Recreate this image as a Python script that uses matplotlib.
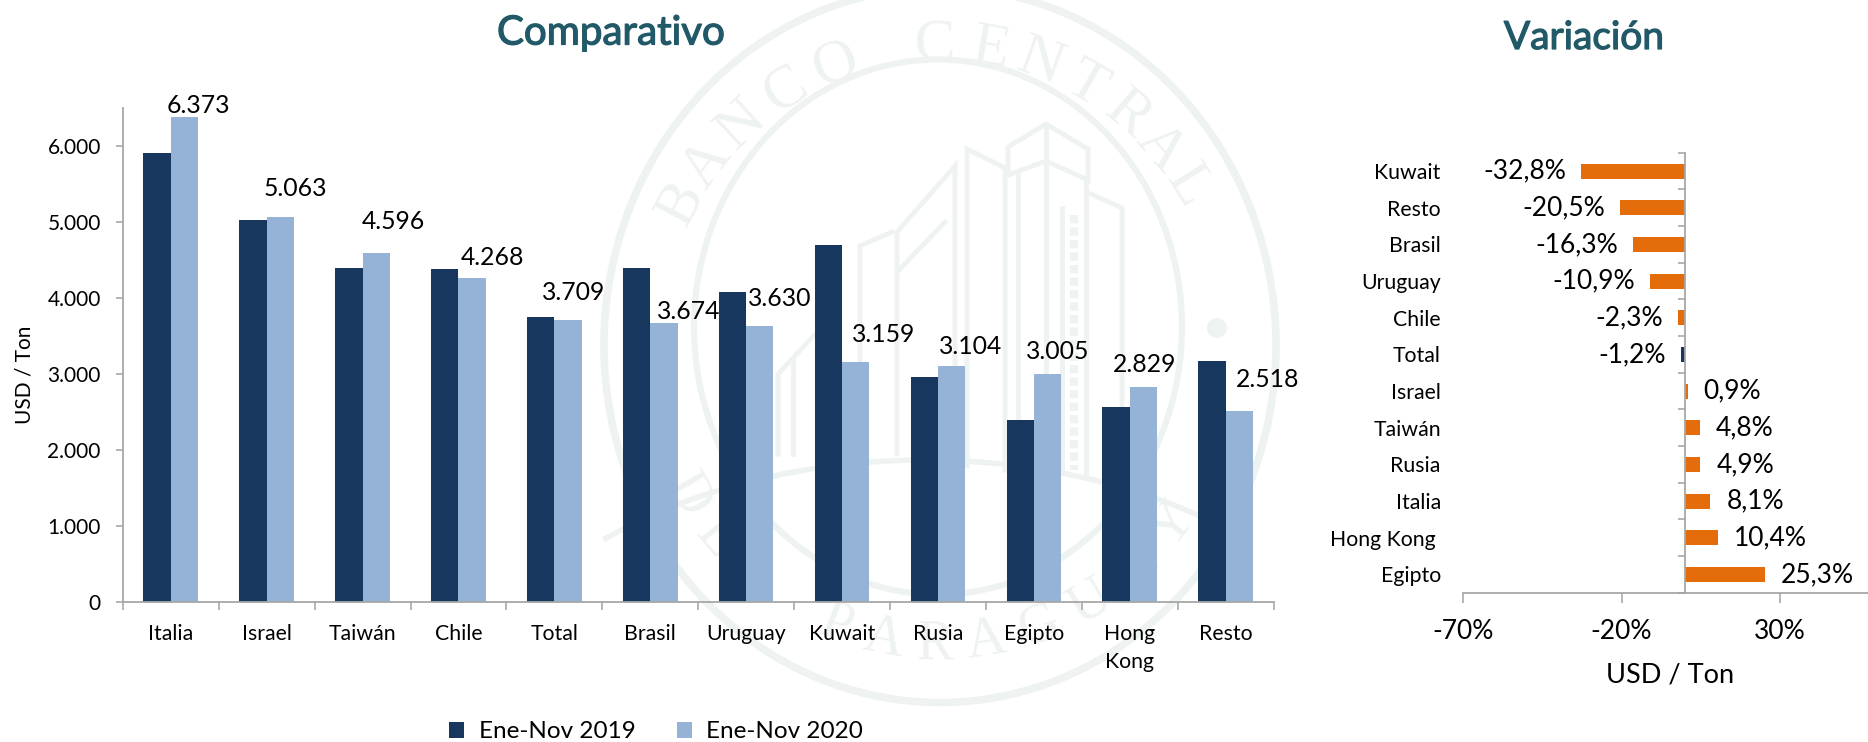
import numpy as np
import matplotlib
matplotlib.use('Agg')
import matplotlib.pyplot as plt
import matplotlib.patheffects as pe
from matplotlib.patches import Ellipse, Arc, Circle

plt.rcParams['font.family'] = ['Lato', 'DejaVu Sans']

W, H = 1868, 742
NAVY = '#17375e'
LIGHT = '#95b3d7'
ORANGE = '#e46c0a'
TEAL = '#215968'
AXIS = '#a6a6a6'
SEAL = '#eef3f1'

countries = ['Italia', 'Israel', 'Taiwán', 'Chile', 'Total', 'Brasil', 'Uruguay',
             'Kuwait', 'Rusia', 'Egipto', 'Hong\nKong', 'Resto']
values_2019 = [5900, 5023, 4393, 4375, 3753, 4393, 4071, 4700, 2960, 2394, 2560, 3170]
values_2020 = [6373, 5063, 4596, 4268, 3709, 3674, 3630, 3159, 3104, 3005, 2829, 2518]
y_ticks = [0, 1000, 2000, 3000, 4000, 5000, 6000]

var_names = ['Kuwait', 'Resto', 'Brasil', 'Uruguay', 'Chile', 'Total', 'Israel',
             'Taiwán', 'Rusia', 'Italia', 'Hong Kong ', 'Egipto']
var_values = [-32.8, -20.5, -16.3, -10.9, -2.3, -1.2, 0.9, 4.8, 4.9, 8.1, 10.4, 25.3]
var_ticks = [-70, -20, 30]

# label nudges in px, the source chart has them hand placed
label_dx = [14, 14.6, 17, 20, 5.7, 25, 20, 28, 19, 10, 1, 28]
label_dy = [11.6, 29, 30.8, 19.8, 27.5, 11.7, 28, 27.3, 19.6, 22, 22.6, 30.7]


def px(v):
    return v * 0.72


def axes_box(left, top, right, bottom):
    return [left / W, 1 - bottom / H, (right - left) / W, (bottom - top) / H]


fig = plt.figure(figsize=(W / 100, H / 100), dpi=100)

# watermark seal behind everything
bg = fig.add_axes([0, 0, 1, 1], zorder=0)
bg.set_xlim(0, W)
bg.set_ylim(H, 0)
bg.axis('off')
cx, cy = 940, 345
bg.add_patch(Ellipse((cx, cy), 672, 715, fill=False, ec=SEAL, lw=5.5))
bg.add_patch(Ellipse((cx - 2, cy - 18), 488, 535, fill=False, ec=SEAL, lw=4.5))
bg.add_patch(Arc((925, 800), 1000, 680, theta1=219, theta2=321, ec=SEAL, lw=4))
bg.add_patch(Circle((1217, 328), 10, fc=SEAL, ec='none'))

top_angles = [152, 143, 133, 122, 111, 91, 80, 70, 60, 50, 41, 32]
for ch, a in zip('BANCOCENTRAL', top_angles):
    r = np.radians(a)
    bg.text(cx + 292 * np.cos(r), cy - 300 * np.sin(r), ch, rotation=a - 90,
            family='Liberation Serif', fontsize=44, color=SEAL, ha='center', va='center',
            rotation_mode='anchor')
bottom_angles = [210, 220, 230, 249, 259, 269, 279, 290, 301, 312, 323]
for ch, a in zip('DELPARAGUAY', bottom_angles):
    r = np.radians(a)
    bg.text(cx + 292 * np.cos(r), cy - 300 * np.sin(r), ch, rotation=a - 270,
            family='Liberation Serif', fontsize=40, color=SEAL, ha='center', va='center',
            rotation_mode='anchor')

building = [
    [(1008, 175), (1008, 147), (1046, 124), (1088, 149), (1088, 180), (1046, 161), (1008, 175)],
    [(1046, 124), (1046, 161), (1046, 470)],
    [(1018, 172), (1018, 470)],
    [(967, 466), (967, 149), (1005, 168), (1005, 470)],
    [(955, 464), (955, 166), (897, 232), (897, 454)],
    [(945, 222), (899, 270)],
    [(892, 232), (860, 246), (860, 454)],
    [(836, 312), (778, 374), (778, 454)],
    [(793, 454), (793, 360)],
    [(1091, 194), (1122, 208), (1122, 473)],
    [(1062, 208), (1062, 470)],
    [(1086, 180), (1086, 473)],
]
for line in building:
    xs, ys = zip(*line)
    bg.plot(xs, ys, color=SEAL, lw=3.5, solid_joinstyle='miter')
bg.vlines([1074], 215, 470, color=SEAL, lw=6, linestyles=(0, (1.0, 0.5)))

# left chart
ax = fig.add_axes(axes_box(122.8, 107.65, 1273.6, 602.3), zorder=1)
ax.patch.set_alpha(0)
pos = np.arange(len(countries))
bar_w = 0.285
bars_a = ax.bar(pos - bar_w / 2, values_2019, bar_w, color=NAVY, label='Ene-Nov 2019')
bars_b = ax.bar(pos + bar_w / 2, values_2020, bar_w, color=LIGHT, label='Ene-Nov 2020')
ax.set_xlim(-0.5, len(countries) - 0.5)
ax.set_ylim(0, 6500)
ax.set_yticks(y_ticks)
ax.set_yticklabels([f'{v:,}'.replace(',', '.') for v in y_ticks], fontsize=15)
ax.set_xticks(pos)
ax.set_xticklabels(countries, fontsize=15.3, linespacing=1.5)
ax.set_xticks(np.arange(len(countries) + 1) - 0.5, minor=True)
ax.tick_params(axis='x', which='major', length=0, pad=px(22))
ax.tick_params(axis='x', which='minor', length=px(8), width=px(1.6), color=AXIS)
ax.tick_params(axis='y', length=px(7.5), width=px(1.6), color=AXIS, pad=px(14.5))
for side in ['top', 'right']:
    ax.spines[side].set_visible(False)
for side in ['left', 'bottom']:
    ax.spines[side].set_color(AXIS)
    ax.spines[side].set_linewidth(px(1.8))
for i, v in enumerate(values_2020):
    ax.annotate(f'{v:,}'.replace(',', '.'), (pos[i] + bar_w / 2, v),
                xytext=(px(label_dx[i]), px(label_dy[i])), textcoords='offset points',
                ha='center', va='center', fontsize=17.8, color='black')
fig.text(25 / W, 1 - 375 / H, 'USD / Ton', rotation=90, ha='center', va='center', fontsize=15)
title_fx = [pe.withStroke(linewidth=0.9, foreground=TEAL)]
fig.text(611 / W, 1 - 33 / H, 'Comparativo', ha='center', va='center', fontsize=29, color=TEAL,
         path_effects=title_fx)

fig.legend(handles=[bars_a, bars_b], loc='center', bbox_to_anchor=(656 / W, 1 - 732 / H),
           ncol=2, frameon=False, fontsize=17.5, handlelength=0.62, handleheight=0.62,
           handletextpad=0.58, columnspacing=1.7, borderpad=0, borderaxespad=0)

# right chart
ax2 = fig.add_axes(axes_box(1463.4, 152.7, 1868, 592.7), zorder=1)
ax2.patch.set_alpha(0)
ax2.spines['left'].set_position(('data', 0))
rows = np.arange(len(var_names))
colors = [NAVY if n == 'Total' else ORANGE for n in var_names]
ax2.barh(rows, var_values, 0.41, color=colors)
ax2.set_xlim(-70, 57.9)
ax2.set_ylim(len(var_names) - 0.5, -0.5)
ax2.set_xticks(var_ticks)
ax2.set_xticklabels([f'{v}%' for v in var_ticks], fontsize=19)
ax2.set_yticks(rows)
ax2.set_yticklabels(var_names, fontsize=15.3)
ax2.set_yticks(np.arange(len(var_names) + 1) - 0.5, minor=True)
ax2.tick_params(axis='y', which='major', length=0, pad=px(244))
ax2.tick_params(axis='y', which='minor', length=px(7), width=px(1.6), color=AXIS)
ax2.tick_params(axis='x', length=px(10), width=px(1.6), color=AXIS, pad=px(16))
for side in ['top', 'right']:
    ax2.spines[side].set_visible(False)
for side in ['left', 'bottom']:
    ax2.spines[side].set_color(AXIS)
    ax2.spines[side].set_linewidth(px(1.8))
for i, v in enumerate(var_values):
    ax2.annotate(f'{v:.1f}'.replace('.', ',') + '%', (v, rows[i]),
                 xytext=(px(16) if v > 0 else -px(15), 0), textcoords='offset points',
                 ha='left' if v > 0 else 'right', va='center', fontsize=19, color='black')
fig.text(1669.6 / W, 1 - 675 / H, 'USD / Ton', ha='center', va='center', fontsize=19.5)
fig.text(1584 / W, 1 - 38 / H, 'Variación', ha='center', va='center', fontsize=28, color=TEAL,
         path_effects=title_fx)

fig.savefig('out.png', dpi=100)
